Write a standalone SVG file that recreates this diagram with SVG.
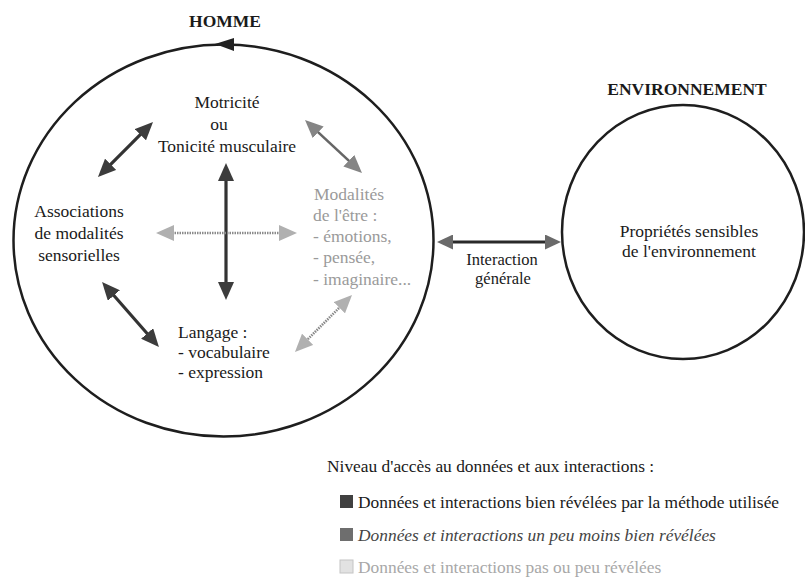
<svg xmlns="http://www.w3.org/2000/svg" width="805" height="578" viewBox="0 0 805 578">
<style>
  text { font-family: "Liberation Serif", "Times New Roman", serif; font-size: 17.5px; fill: #1a1a1a; }
  .title { font-weight: bold; }
  .c { text-anchor: middle; }
  .ring { fill: none; stroke: #1e1e1e; stroke-width: 2.5; }
  .dark { stroke: #333; stroke-width: 3.2; fill: none; marker-start: url(#mDark); marker-end: url(#mDark); }
  .med { stroke: #666; stroke-width: 2.6; fill: none; marker-start: url(#mMed); marker-end: url(#mMed); }
  .light { stroke: #8a8a8a; stroke-width: 2.6; stroke-dasharray: 1.5 1; fill: none; marker-start: url(#mLight); marker-end: url(#mLight); }
  .inter { stroke: #2a2a2a; stroke-width: 3; fill: none; marker-start: url(#mInter); marker-end: url(#mInter); }
  .pale { fill: #9a9a9a; }
  .leg { font-size: 17.4px; }
</style>
<defs>
  <marker id="mDark" viewBox="0 0 18 16" markerWidth="18" markerHeight="16" refX="12" refY="8" orient="auto-start-reverse" markerUnits="userSpaceOnUse">
    <path d="M0,0 L18,8 L0,16 Z" fill="#3c3c3c"/>
  </marker>
  <marker id="mMed" viewBox="0 0 18 16" markerWidth="18" markerHeight="16" refX="12" refY="8" orient="auto-start-reverse" markerUnits="userSpaceOnUse">
    <path d="M0,0 L18,8 L0,16 Z" fill="#858585"/>
  </marker>
  <marker id="mLight" viewBox="0 0 18 16" markerWidth="18" markerHeight="16" refX="12" refY="8" orient="auto-start-reverse" markerUnits="userSpaceOnUse">
    <path d="M0,0 L18,8 L0,16 Z" fill="#b0b0b0"/>
  </marker>
  <marker id="mInter" viewBox="0 0 16 15" markerWidth="16" markerHeight="15" refX="10" refY="7.5" orient="auto-start-reverse" markerUnits="userSpaceOnUse">
    <path d="M0,0 L16,7.5 L0,15 Z" fill="#6a6a6a"/>
  </marker>
</defs>

<g id="homme">
  <ellipse class="ring" cx="223.5" cy="240.5" rx="210" ry="196"/>
  <path d="M215,44 L234,38 L234,51 Z" fill="#222"/>
  <text class="title c" x="225" y="27">HOMME</text>
</g>

<g id="environnement">
  <ellipse class="ring" cx="683" cy="232" rx="121" ry="127"/>
  <text class="title c" x="687" y="95">ENVIRONNEMENT</text>
  <text class="c" x="689" y="237">Propriétés sensibles</text>
  <text class="c" x="689" y="257">de l'environnement</text>
</g>

<g id="motricite">
  <text class="c" x="227" y="108">Motricité</text>
  <text class="c" x="219" y="130">ou</text>
  <text class="c" x="227" y="152">Tonicité musculaire</text>
</g>

<g id="associations">
  <text class="c" x="79" y="217">Associations</text>
  <text class="c" x="79" y="239">de modalités</text>
  <text class="c" x="79" y="261">sensorielles</text>
</g>

<g id="modalites">
  <text class="pale" x="314" y="200">Modalités</text>
  <text class="pale" x="313" y="221">de l'être :</text>
  <text class="pale" x="313" y="242">- émotions,</text>
  <text class="pale" x="313" y="263">- pensée,</text>
  <text class="pale" x="313" y="285">- imaginaire...</text>
</g>

<g id="langage">
  <text x="178" y="338">Langage :</text>
  <text x="178" y="358">- vocabulaire</text>
  <text x="178" y="378">- expression</text>
</g>

<g id="interaction-label">
  <text class="c" x="502" y="265" style="font-size:16.5px">Interaction</text>
  <text class="c" x="503" y="284" style="font-size:16.5px">générale</text>
</g>

<g id="connectors">
  <line class="dark" x1="102.2" y1="172.8" x2="148.8" y2="126.2"/>
  <line class="med" x1="309.4" y1="124.1" x2="357.6" y2="168.9"/>
  <line class="dark" x1="106" y1="286.5" x2="155" y2="342.5"/>
  <line class="light" x1="347.8" y1="299.2" x2="299.2" y2="347.8"/>
  <line class="dark" x1="226" y1="169" x2="226" y2="294"/>
  <line class="light" x1="162" y1="233" x2="291" y2="233"/>
  <line class="inter" x1="443" y1="242" x2="555" y2="242"/>
</g>

<g id="legend">
  <text class="leg" x="327" y="472">Niveau d'accès au données et aux interactions :</text>
  <rect x="340" y="495" width="13" height="13" fill="#404040"/>
  <text class="leg" x="358" y="508">Données et interactions bien révélées par la méthode utilisée</text>
  <rect x="340" y="528" width="13" height="13" fill="#6e6e6e"/>
  <text class="leg" x="358" y="541" style="font-style:italic;fill:#444">Données et interactions un peu moins bien révélées</text>
  <rect x="340" y="560" width="13" height="13" fill="#e2e2e2" stroke="#c4c4c4" stroke-width="1"/>
  <text class="leg" x="358" y="573" style="fill:#a8a8a8">Données et interactions pas ou peu révélées</text>
</g>
</svg>
